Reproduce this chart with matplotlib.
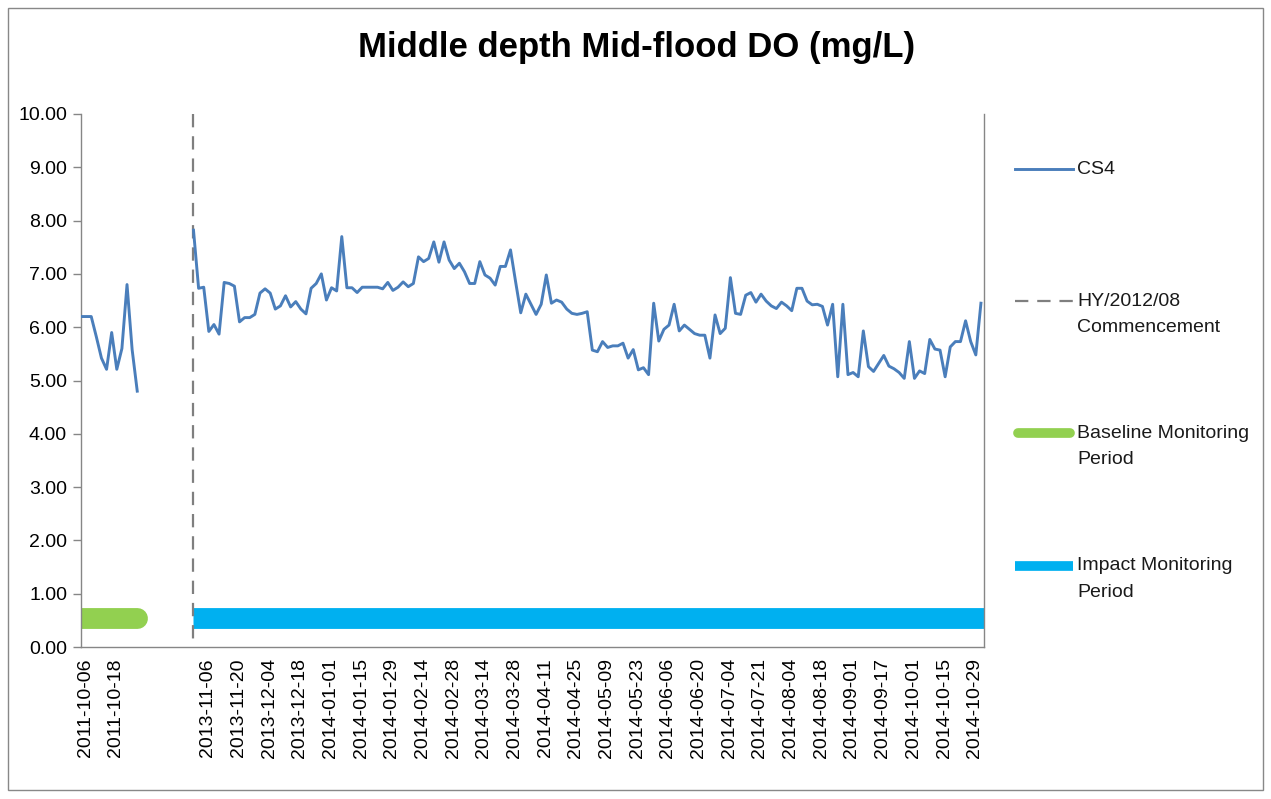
import numpy as np
import matplotlib
matplotlib.use("Agg")
import matplotlib.pyplot as plt
from matplotlib.lines import Line2D
from matplotlib.patches import Rectangle
import matplotlib.transforms as mtransforms

plt.rcParams['font.family'] = ['Liberation Sans', 'DejaVu Sans']

# ---------------- data ----------------
title = "Middle depth Mid-flood DO (mg/L)"
n_categories = 177          # category slots on the x axis
baseline_start = 0          # first baseline category
impact_start = 22           # first impact category (HY/2012/08 commencement)

baseline_cs4 = [6.20, 6.20, 6.20, 5.82, 5.42, 5.21, 5.90, 5.21, 5.60, 6.80, 5.58, 4.80]

impact_cs4 = [
    7.82, 6.73, 6.75, 5.92, 6.05, 5.87, 6.84, 6.82, 6.77, 6.10,
    6.18, 6.18, 6.24, 6.64, 6.72, 6.64, 6.34, 6.40, 6.59, 6.38,
    6.48, 6.34, 6.25, 6.73, 6.82, 7.00, 6.51, 6.74, 6.68, 7.70,
    6.74, 6.74, 6.65, 6.75, 6.75, 6.75, 6.75, 6.72, 6.84, 6.69,
    6.75, 6.85, 6.76, 6.82, 7.32, 7.23, 7.29, 7.60, 7.22, 7.60,
    7.26, 7.10, 7.20, 7.04, 6.82, 6.82, 7.23, 6.98, 6.92, 6.79,
    7.14, 7.14, 7.45, 6.85, 6.27, 6.62, 6.43, 6.24, 6.43, 6.98,
    6.45, 6.51, 6.47, 6.34, 6.26, 6.24, 6.26, 6.29, 5.57, 5.54,
    5.73, 5.62, 5.65, 5.65, 5.70, 5.42, 5.58, 5.20, 5.24, 5.11,
    6.45, 5.74, 5.96, 6.04, 6.43, 5.93, 6.04, 5.96, 5.88, 5.85,
    5.85, 5.42, 6.23, 5.88, 5.98, 6.93, 6.26, 6.24, 6.60, 6.65,
    6.47, 6.62, 6.49, 6.40, 6.35, 6.47, 6.40, 6.31, 6.73, 6.73,
    6.49, 6.42, 6.43, 6.39, 6.04, 6.43, 5.07, 6.43, 5.11, 5.15,
    5.07, 5.93, 5.26, 5.17, 5.32, 5.47, 5.27, 5.22, 5.15, 5.04,
    5.73, 5.04, 5.18, 5.13, 5.77, 5.59, 5.57, 5.07, 5.63, 5.73,
    5.73, 6.12, 5.73, 5.48, 6.45,
]

tick_labels = [
    "2011-10-06", "2011-10-18", "", "",
    "2013-11-06", "2013-11-20", "2013-12-04", "2013-12-18",
    "2014-01-01", "2014-01-15", "2014-01-29", "2014-02-14", "2014-02-28",
    "2014-03-14", "2014-03-28", "2014-04-11", "2014-04-25", "2014-05-09",
    "2014-05-23", "2014-06-06", "2014-06-20", "2014-07-04", "2014-07-21",
    "2014-08-04", "2014-08-18", "2014-09-01", "2014-09-17", "2014-10-01",
    "2014-10-15", "2014-10-29",
]
label_every = 6
tickmark_every = 12
period_level = 0.55

# ---------------- figure ----------------
W, H = 1271, 799
fig = plt.figure(figsize=(W / 100, H / 100), dpi=100)
ax = fig.add_axes([81 / W, 1 - 647 / H, (984 - 81) / W, (647 - 114) / H])

xb = baseline_start + np.arange(len(baseline_cs4))
xi = impact_start + np.arange(len(impact_cs4))
xmax = n_categories - 1 + 0.6

line_col = "#4A7EBB"
green = "#92D050"
blue = "#00B0F0"
grey = "#868686"

# period bars
ax.plot([xb[0], xb[-1]], [period_level, period_level], color=green, lw=15,
        solid_capstyle="round", zorder=2)
ax.plot([xi[0], xmax], [period_level, period_level], color=blue, lw=15,
        solid_capstyle="butt", zorder=2)

# commencement line (drawn top-down so the dash pattern starts at the top)
ax.plot([impact_start, impact_start], [10, 0], color="#7F7F7F", lw=1.6,
        dashes=(6, 4), zorder=3)

# CS4 series
ax.plot(xb, baseline_cs4, color=line_col, lw=2.1, zorder=4)
ax.plot(xi, impact_cs4, color=line_col, lw=2.1, zorder=4)

ax.set_xlim(0, xmax)
ax.set_ylim(0, 10)

ax.set_yticks(np.arange(0, 11, 1))
ax.set_yticklabels([f"{v:.2f}" for v in np.arange(0, 11, 1)])

label_pos = np.arange(len(tick_labels)) * label_every
ax.set_xticks(label_pos)
ax.set_xticklabels(tick_labels, rotation=90)
ax.tick_params(axis="x", length=0, pad=8, labelsize=14, labelcolor="#000000")
ax.set_xticks(np.arange(0, n_categories, tickmark_every), minor=True)
ax.tick_params(axis="x", which="minor", length=6, width=1, color=grey, direction="out")
ax.tick_params(axis="y", length=6, width=1, color=grey, direction="out",
               labelsize=14, pad=4, labelcolor="#000000")

offset = mtransforms.ScaledTranslation(4 / 100, 0, fig.dpi_scale_trans)
for lab in ax.get_xticklabels():
    lab.set_transform(lab.get_transform() + offset)

for s in ["left", "bottom", "right"]:
    ax.spines[s].set_color(grey)
    ax.spines[s].set_linewidth(1)
ax.spines["top"].set_visible(False)

# title
fig.text(637 / W, 1 - 48 / H, title, ha="center", va="center",
         fontsize=25, fontweight="bold", color="#000000")

# legend (manual, right side)
def fx(px):
    return px / W


def fy(py):
    return 1 - py / H


legend_items = [
    (169, dict(color=line_col, lw=2.1), ["CS4"]),
    (301, dict(color="#7F7F7F", lw=1.6, dashes=(6, 4)), ["HY/2012/08", "Commencement"]),
    (433, dict(color=green, lw=7, solid_capstyle="round"), ["Baseline Monitoring", "Period"]),
    (566, dict(color=blue, lw=7, solid_capstyle="butt"), ["Impact Monitoring", "Period"]),
]
for ypix, style, lines in legend_items:
    x0, x1 = 1015, 1073
    if style.get("solid_capstyle") == "round":
        x0, x1 = 1015 + 3, 1073 - 3
    fig.add_artist(Line2D([fx(x0), fx(x1)], [fy(ypix), fy(ypix)], transform=fig.transFigure, **style))
    for i, t in enumerate(lines):
        fig.text(fx(1077), fy(ypix + 26.5 * i), t, ha="left", va="center",
                 fontsize=14, color="#1a1a1a")

# chart border
fig.add_artist(Rectangle((fx(8), fy(790)), fx(1263) - fx(8), fy(8) - fy(790),
                         transform=fig.transFigure, fill=False, edgecolor="#888888", lw=1))

fig.savefig("out.png", dpi=100)
